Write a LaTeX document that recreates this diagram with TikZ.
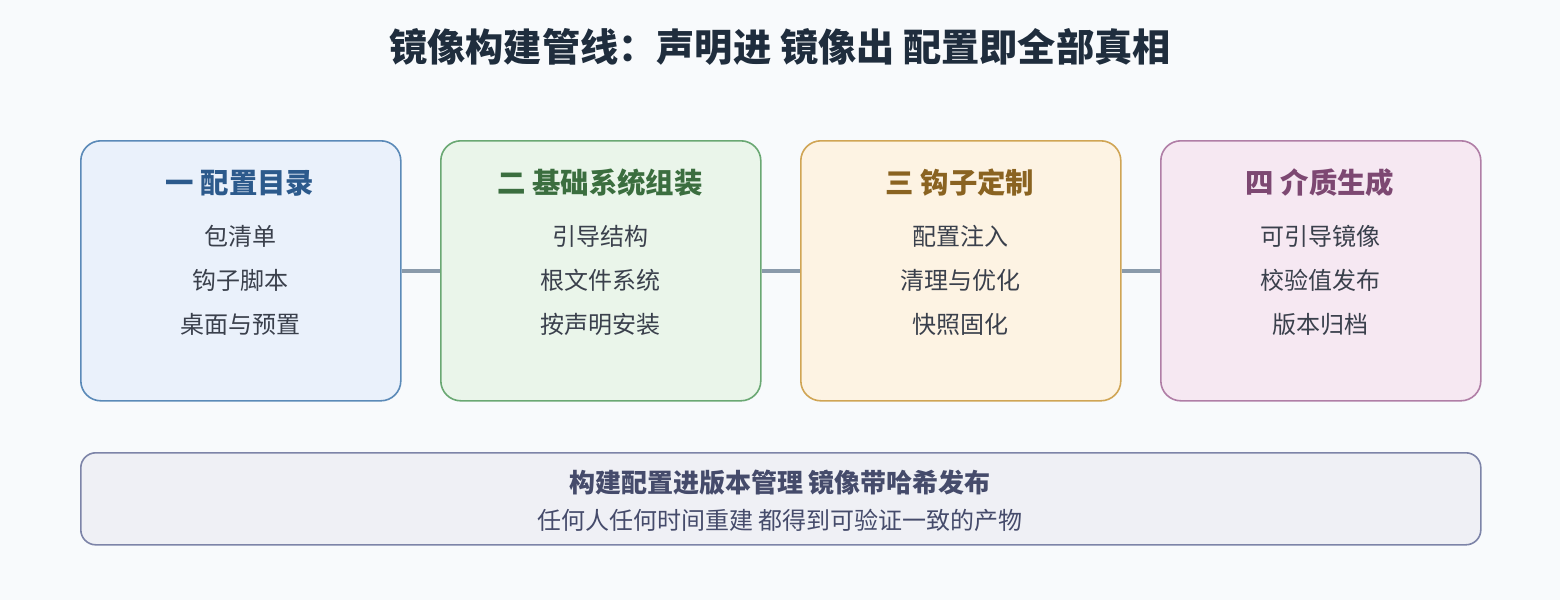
\documentclass[tikz,border=0pt]{standalone}
\usepackage{fontspec}
\setmainfont{Noto Sans CJK SC}
\usetikzlibrary{positioning}
\definecolor{bg}{HTML}{F8FAFC}
\definecolor{ttl}{HTML}{1F2D3D}
\definecolor{itm}{HTML}{3A404C}
\definecolor{fa}{HTML}{EAF1FB}\definecolor{sa}{HTML}{5B8AB8}\definecolor{ta}{HTML}{2C5A8C}
\definecolor{fb}{HTML}{EAF5EA}\definecolor{sb}{HTML}{6AA873}\definecolor{tb}{HTML}{3B6E3F}
\definecolor{fc}{HTML}{FDF3E3}\definecolor{sc}{HTML}{D0A555}\definecolor{tc}{HTML}{8A6321}
\definecolor{fd}{HTML}{F6E8F2}\definecolor{sd}{HTML}{B07EA6}\definecolor{td}{HTML}{7D4872}
\definecolor{fe}{HTML}{EFF0F5}\definecolor{se}{HTML}{7D84A8}\definecolor{te}{HTML}{454B6B}
\definecolor{conn}{HTML}{8A9AAA}
\tikzset{
  stage/.style={draw, line width=1.6pt, rounded corners=20pt, minimum width=320pt, minimum height=260pt, anchor=north west, inner sep=0pt},
  stitle/.style={font=\fontsize{28.4pt}{33pt}\selectfont\bfseries},
  sitem/.style={font=\fontsize{24pt}{29pt}\selectfont, text=itm},
  link/.style={draw=conn, line width=3.5pt},
}
\begin{document}
\begin{tikzpicture}[x=1pt,y=-1pt]
\fill[bg] (0,0) rectangle (1560,600);
\useasboundingbox (0,0) rectangle (1560,600);
\node[font=\fontsize{38.2pt}{45pt}\selectfont\bfseries, text=ttl] (title) at (780,47) {镜像构建管线：声明进 镜像出 配置即全部真相};

\node[stage, draw=sa, fill=fa] (s1) at (80,140) {};
\node[stage, draw=sb, fill=fb] (s2) at (440,140) {};
\node[stage, draw=sc, fill=fc] (s3) at (800,140) {};
\node[stage, draw=sd, fill=fd] (s4) at (1160,140) {};

\draw[link] (s1.east) -- (s2.west);
\draw[link] (s2.east) -- (s3.west);
\draw[link] (s3.east) -- (s4.west);

\node[stitle, text=ta] (t1) at (240,183) {一 配置目录};
\node[sitem] (a1) at (240,236) {包清单};
\node[sitem] (a2) at (240,280) {钩子脚本};
\node[sitem] (a3) at (240,324) {桌面与预置};

\node[stitle, text=tb] (t2) at (600,183) {二 基础系统组装};
\node[sitem] (b1) at (600,236) {引导结构};
\node[sitem] (b2) at (600,280) {根文件系统};
\node[sitem] (b3) at (600,324) {按声明安装};

\node[stitle, text=tc] (t3) at (960,183) {三 钩子定制};
\node[sitem] (c1) at (960,236) {配置注入};
\node[sitem] (c2) at (960,280) {清理与优化};
\node[sitem] (c3) at (960,324) {快照固化};

\node[stitle, text=td] (t4) at (1320,183) {四 介质生成};
\node[sitem] (d1) at (1320,236) {可引导镜像};
\node[sitem] (d2) at (1320,280) {校验值发布};
\node[sitem] (d3) at (1320,324) {版本归档};

\node[draw=se, fill=fe, line width=1.6pt, rounded corners=15pt, minimum width=1400pt, minimum height=92pt, anchor=north west, inner sep=0pt] (bot) at (80,452) {};
\node[font=\fontsize{26pt}{31pt}\selectfont\bfseries, text=te] (bl1) at (780,483) {构建配置进版本管理 镜像带哈希发布};
\node[font=\fontsize{24pt}{29pt}\selectfont, text=te] (bl2) at (780,520) {任何人任何时间重建 都得到可验证一致的产物};
\end{tikzpicture}
\end{document}
